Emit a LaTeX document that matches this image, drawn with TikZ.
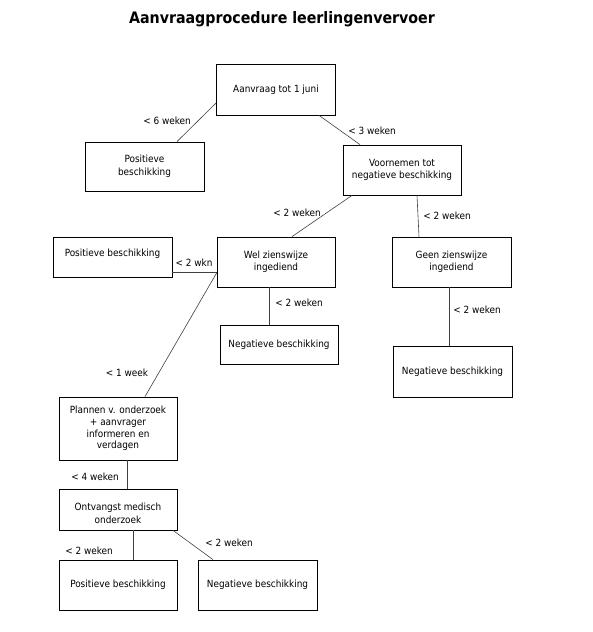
\documentclass[tikz,border=0pt]{standalone}
\usepackage{fontspec}
\setmainfont{DejaVu Sans Condensed}
\begin{document}
\begin{tikzpicture}[x=1pt,y=-1pt,
  box/.style={draw, line width=0.8pt, align=center, inner sep=2pt, font=\fontsize{9.9}{12.5}\selectfont},
  lbl/.style={font=\fontsize{9.9}{12}\selectfont, inner sep=1pt},
  link/.style={draw=black!75, line width=0.6pt}]
\useasboundingbox (0,0) rectangle (593,632);

\node[font=\bfseries\fontsize{15.8}{18}\selectfont] (title) at (282,19) {Aanvraagprocedure leerlingenvervoer};

\node[box, minimum width=119pt, minimum height=51pt] (aanvraag) at (276,89.5) {Aanvraag tot 1 juni};
\node[box, minimum width=119pt, minimum height=49pt] (pos1) at (144.5,166.5) {Positieve\\beschikking};
\node[box, minimum width=118pt, minimum height=50pt] (voornemen) at (402,170) {Voornemen tot\\negatieve beschikking};
\node[box, minimum width=119pt, minimum height=40pt, text depth=8pt] (pos2) at (112.5,257) {Positieve beschikking};
\node[box, minimum width=118pt, minimum height=50pt] (wel) at (276,262) {Wel zienswijze\\ingediend};
\node[box, minimum width=119pt, minimum height=50pt] (geen) at (451.5,262) {Geen zienswijze\\ingediend};
\node[box, minimum width=118pt, minimum height=39pt] (neg1) at (279,344.5) {Negatieve beschikking};
\node[box, minimum width=119pt, minimum height=51pt] (neg2) at (452.5,371.5) {Negatieve beschikking};
\node[box, minimum width=118pt, minimum height=63pt, font=\fontsize{9.9}{11.7}\selectfont] (plannen) at (118,428.5) {Plannen v. onderzoek\\+ aanvrager\\informeren en\\verdagen};
\node[box, minimum width=118pt, minimum height=41pt, text height=28pt] (ontvangst) at (118,509.5) {Ontvangst medisch\\onderzoek};
\node[box, minimum width=118pt, minimum height=50pt] (pos3) at (118,585) {Positieve beschikking};
\node[box, minimum width=119pt, minimum height=50pt] (neg3) at (257.5,585) {Negatieve beschikking};

\draw[link] ([yshift=-13.5pt]aanvraag.west) -- ([xshift=32.5pt]pos1.north);
\draw[link] ([xshift=43pt]aanvraag.south) -- ([xshift=-42pt]voornemen.north);
\draw[link] ([xshift=-50pt]voornemen.south) -- ([xshift=16pt]wel.north);
\draw[link] ([xshift=15pt]voornemen.south) -- ([xshift=-32.5pt]geen.north);
\draw[link] ([yshift=-15pt]pos2.east) -- ([yshift=-10pt]wel.west);
\draw[link] ([yshift=-11pt]wel.west) -- ([xshift=27pt]plannen.north);
\draw[link] ([xshift=-7pt]wel.south) -- ([xshift=-10pt]neg1.north);
\draw[link] ([xshift=-2.5pt]geen.south) -- ([xshift=-3.5pt]neg2.north);
\draw[link] ([xshift=9pt]plannen.south) -- ([xshift=9pt]ontvangst.north);
\draw[link] ([xshift=15pt]ontvangst.south) -- ([xshift=15pt]pos3.north);
\draw[link] ([xshift=55pt]ontvangst.south) -- ([xshift=-44.5pt]neg3.north);

\node[lbl] at (167,121) {< 6 weken};
\node[lbl] at (372,131) {< 3 weken};
\node[lbl] at (297,213) {< 2 weken};
\node[lbl] at (447,216) {< 2 weken};
\node[lbl] at (194,263) {< 2 wkn};
\node[lbl] at (299,303) {< 2 weken};
\node[lbl] at (477,310) {< 2 weken};
\node[lbl] at (127,373) {< 1 week};
\node[lbl] at (95,477) {< 4 weken};
\node[lbl] at (89,551) {< 2 weken};
\node[lbl] at (229,543) {< 2 weken};
\end{tikzpicture}
\end{document}
